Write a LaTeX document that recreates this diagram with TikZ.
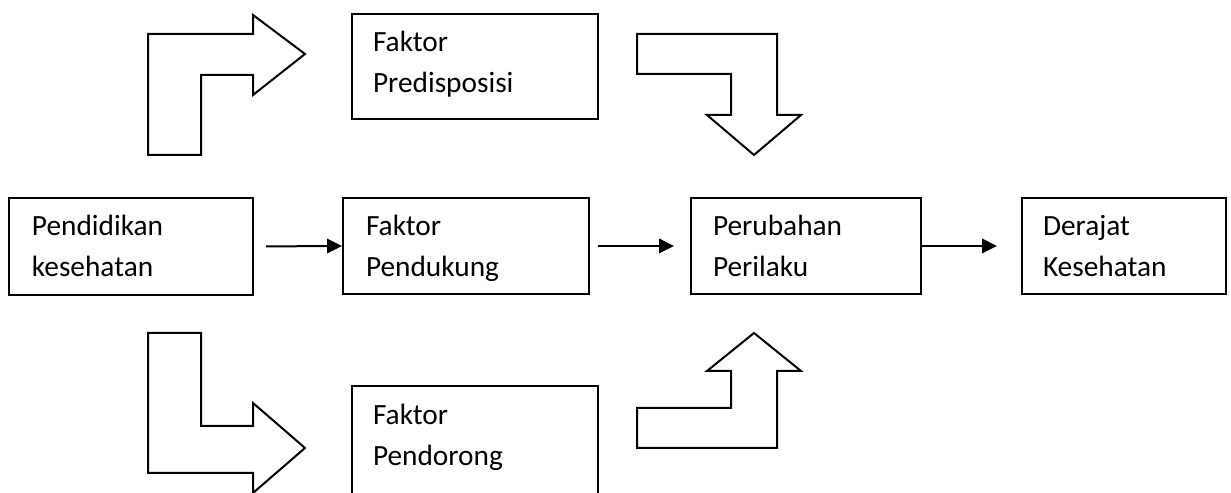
\documentclass[tikz,border=0pt]{standalone}
\usepackage{fontspec}
\setmainfont{Carlito}
\usetikzlibrary{arrows.meta,calc}
\begin{document}
\begin{tikzpicture}[x=0.375pt,y=-0.375pt,
  line width=0.75pt,
  box/.style={draw=black,rectangle,inner sep=0pt},
  lbl/.style={anchor=base west,align=left,inner sep=0pt,font=\fontsize{11pt}{15.4pt}\selectfont},
  conn/.style={-{Triangle[length=5.6pt,width=5.4pt]}},
  blockarrow/.style={draw=black,line join=miter}
]
\clip (0,0) rectangle (1231,493);
\fill[white] (0,0) rectangle (1231,493);

% boxes
\node[box,minimum width=91.5pt,minimum height=36.4pt] (pend) at (131,246.5) {};
\node[box,minimum width=92.25pt,minimum height=36pt] (pdk) at (466,246) {};
\node[box,minimum width=86.25pt,minimum height=36pt] (prb) at (806,246) {};
\node[box,minimum width=76.5pt,minimum height=36pt] (drj) at (1124,246) {};
\node[box,minimum width=92.25pt,minimum height=39.4pt] (pred) at (475,66.5) {};
\node[box,minimum width=92.25pt,minimum height=45pt] (pdr) at (475,446) {};

% labels (base anchor = baseline of the last line)
\node[lbl] (tpend) at ($(pend.north west)+(23,80)$) {Pendidikan\\kesehatan};
\node[lbl] (tpdk) at ($(pdk.north west)+(23,80)$) {Faktor\\Pendukung};
\node[lbl] (tprb) at ($(prb.north west)+(22,80)$) {Perubahan\\Perilaku};
\node[lbl] (tdrj) at ($(drj.north west)+(21,80)$) {Derajat\\Kesehatan};
\node[lbl] (tpred) at ($(pred.north west)+(21,80)$) {Faktor\\Predisposisi};
\node[lbl] (tpdr) at ($(pdr.north west)+(21,81)$) {Faktor\\Pendorong};

% connectors
\draw[conn,shorten <=4.5pt] (pend.east) -- (pdk.west);
\draw[conn,shorten <=3pt,shorten >=6pt] (pdk.east) -- (prb.west);
\draw[conn,shorten >=9pt] (prb.east) -- (drj.west);

% block arrows
\draw[blockarrow] (148,155) -- (148,34) -- (253,34) -- (253,15) -- (305,54)
  -- (253,95) -- (253,75) -- (201,75) -- (201,155) -- cycle;
\draw[blockarrow] (637,34) -- (777,34) -- (777,115) -- (801,115) -- (754,155)
  -- (707,115) -- (731,115) -- (731,74) -- (637,74) -- cycle;
\draw[blockarrow] (148,333) -- (201,333) -- (201,426) -- (253,426) -- (253,403)
  -- (305,448) -- (253,493) -- (253,473) -- (148,473) -- cycle;
\draw[blockarrow] (637,448) -- (637,408) -- (731,408) -- (731,371) -- (707,371)
  -- (754,333) -- (801,371) -- (777,371) -- (777,448) -- cycle;
\end{tikzpicture}
\end{document}
